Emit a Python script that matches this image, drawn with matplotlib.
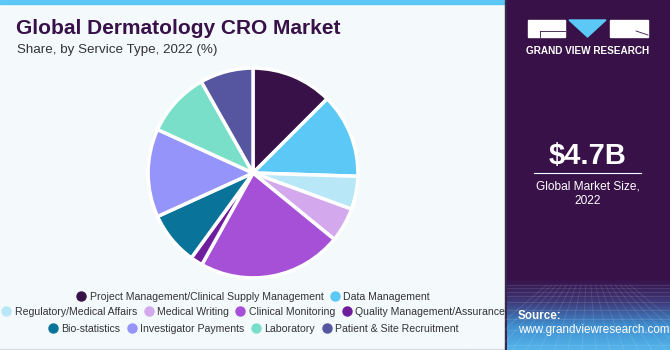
import matplotlib.pyplot as plt
import numpy as np
from matplotlib.lines import Line2D
from matplotlib.patches import Rectangle, Polygon

plt.rcParams['font.family'] = ['Liberation Sans', 'DejaVu Sans']

# Datos del grafico (estimados a partir de la imagen)
servicios = ['Project Management/Clinical Supply Management', 'Data Management',
             'Regulatory/Medical Affairs', 'Medical Writing', 'Clinical Monitoring',
             'Quality Management/Assurance', 'Bio-statistics', 'Investigator Payments',
             'Laboratory', 'Patient & Site Recruitment']
participacion = [12.5, 13.0, 5.1, 5.3, 22.2, 1.9, 8.2, 13.6, 10.0, 8.2]
colores = ['#371147', '#5bc8f5', '#b8e8f8', '#d4a8ec', '#a550d6',
           '#6e1e9c', '#0a7399', '#9494fa', '#7adfc8', '#5555a0']
filas_leyenda = [2, 4, 4]

titulo = 'Global Dermatology CRO Market'
subtitulo = 'Share, by Service Type, 2022 (%)'
valor = '$4.7B'
valor_txt = 'Global Market Size,\n2022'

W, H = 670, 350
fig = plt.figure(figsize=(W / 100, H / 100), dpi=100)

# Fondo en coordenadas de pixel
bg = fig.add_axes([0, 0, 1, 1])
bg.set_xlim(0, W)
bg.set_ylim(H, 0)
bg.axis('off')
bg.add_patch(Rectangle((0, 0), W, H, color='#f4f9fc'))
bg.add_patch(Rectangle((0, 0), 507, 4, color='#5bc8f5'))
bg.add_patch(Rectangle((0, 348.5), 507, 1.5, color='#d8dde2'))
bg.add_patch(Rectangle((505, 0), 2, H, color='#3a2a4a'))
bg.add_patch(Rectangle((507, 0), W - 507, H, color='#371147'))

# degradado inferior del panel derecho
grad = np.linspace(0, 1, 100)[:, None]
cmap = plt.matplotlib.colors.LinearSegmentedColormap.from_list('g', ['#371147', '#3e3a7a', '#3f8fd0', '#55b5ea'])
bg.imshow(grad, extent=(507, W, 350, 278), aspect='auto', cmap=cmap, origin='upper', zorder=1)
# rejilla en perspectiva
for xx in np.arange(470, 720, 14):
    bg.plot([588 + (xx - 588) * 0.35, xx], [285, 350], color='white', alpha=0.12, lw=0.6, zorder=2)
yy = 285.0
paso = 3.0
while yy < 350:
    bg.plot([507, W], [yy, yy], color='white', alpha=0.12, lw=0.6, zorder=2)
    yy += paso
    paso *= 1.25
bg.set_xlim(0, W)
bg.set_ylim(H, 0)

# Logo
bg.add_patch(Rectangle((528, 20), 37, 17, color='white', zorder=3))
bg.plot([540, 565], [31, 31], color='#371147', lw=0.6, zorder=4)
bg.plot([540, 540], [31, 37], color='#371147', lw=0.6, zorder=4)
bg.add_patch(Polygon([(569, 20), (606, 20), (587.5, 37)], color='#5bc8f5', zorder=3))
bg.add_patch(Rectangle((610, 20), 38, 17, color='white', zorder=3))
bg.plot([636, 648], [31, 35], color='#371147', lw=0.6, zorder=4)
bg.text(588, 51, 'GRAND VIEW RESEARCH', color='white', fontsize=7.2, fontweight='bold',
        ha='center', va='center', zorder=3)

bg.text(588, 156, valor, color='white', fontsize=21, fontweight='bold', ha='center', va='center', zorder=3)
bg.plot([534, 641], [173, 173], color='white', lw=0.8, zorder=3)
bg.text(588, 194, valor_txt, color='white', fontsize=8.6, ha='center', va='center',
        linespacing=1.25, zorder=3)
bg.text(518, 316, 'Source:', color='white', fontsize=8.4, fontweight='bold', ha='left', va='center', zorder=3)
bg.text(518, 330, 'www.grandviewresearch.com', color='white', fontsize=8.4, ha='left', va='center', zorder=3)

# Titulos
bg.text(16, 29, titulo, color='#371147', fontsize=15, fontweight='bold', ha='left', va='center')
bg.text(17, 50, subtitulo, color='#333333', fontsize=9.6, ha='left', va='center')

# Torta
cx, cy, r = 253, 173, 107
ax = fig.add_axes([(cx - r) / W, (H - cy - r) / H, 2 * r / W, 2 * r / H])
ax.pie(participacion, colors=colores, startangle=90, counterclock=False, radius=1,
       wedgeprops=dict(edgecolor='white', linewidth=2.5))
ax.set_xlim(-1.02, 1.02)
ax.set_ylim(-1.02, 1.02)
ax.axis('off')

# Leyenda en tres filas
filas_y = [297, 312, 329]
ini = 0
for n, fy in zip(filas_leyenda, filas_y):
    handles = [Line2D([], [], marker='o', linestyle='', markersize=6.5, color=c)
               for c in colores[ini:ini + n]]
    leg = fig.legend(handles, servicios[ini:ini + n], loc='center', ncol=n,
                     bbox_to_anchor=(253 / W, 1 - fy / H), frameon=False,
                     fontsize=7.6, handletextpad=0.3, columnspacing=0.6,
                     handlelength=1.0, borderpad=0, labelcolor='#333333')
    ini += n

fig.savefig('out.png', dpi=100)
